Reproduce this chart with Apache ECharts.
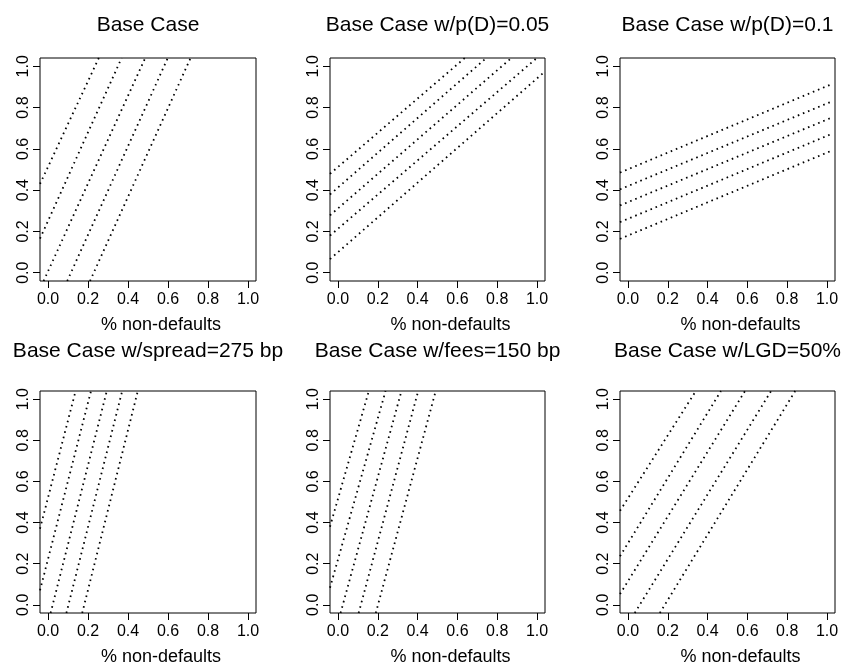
<!DOCTYPE html>
<html>
<head>
<meta charset="utf-8">
<title>Base Case panels</title>
<script src="https://cdn.jsdelivr.net/npm/echarts@6.0.0/dist/echarts.min.js"></script>
<style>
  html, body { margin: 0; padding: 0; background: #fff; }
  #chart { width: 841px; height: 667px; }
</style>
</head>
<body>
<div id="chart"></div>
<script>
// tick positions shared by every axis
const tickValues = [0, 0.2, 0.4, 0.6, 0.8, 1.0];

const panelTitles = [
  'Base Case',
  'Base Case w/p(D)=0.05',
  'Base Case w/p(D)=0.1',
  'Base Case w/spread=275 bp',
  'Base Case w/fees=150 bp',
  'Base Case w/LGD=50%'
];
const xLabel = '% non-defaults';

// each line: [start point, end point] in data units
const baseCase = [
  [[-0.04, 0.43], [0.254, 1.04]],
  [[-0.04, 0.165], [0.368, 1.04]],
  [[-0.022, -0.04], [0.486, 1.04]],
  [[0.096, -0.04], [0.599, 1.04]],
  [[0.21, -0.04], [0.713, 1.04]]
];
const pd005 = [
  [[-0.04, 0.479], [0.637, 1.04]],
  [[-0.04, 0.379], [0.745, 1.04]],
  [[-0.04, 0.278], [0.871, 1.04]],
  [[-0.04, 0.18], [0.999, 1.04]],
  [[-0.04, 0.066], [1.04, 0.975]]
];
const pd01 = [
  [[-0.04, 0.485], [1.025, 0.914]],
  [[-0.04, 0.404], [1.025, 0.83]],
  [[-0.04, 0.326], [1.025, 0.752]],
  [[-0.04, 0.245], [1.025, 0.673]],
  [[-0.04, 0.164], [1.025, 0.592]]
];
const spread275 = [
  [[-0.04, 0.37], [0.138, 1.04]],
  [[-0.04, 0.07], [0.215, 1.04]],
  [[0.013, -0.04], [0.294, 1.04]],
  [[0.092, -0.04], [0.371, 1.04]],
  [[0.171, -0.04], [0.449, 1.04]]
];
const fees150 = [
  [[-0.04, 0.38], [0.155, 1.04]],
  [[-0.04, 0.083], [0.239, 1.04]],
  [[0.013, -0.04], [0.319, 1.04]],
  [[0.104, -0.04], [0.403, 1.04]],
  [[0.19, -0.04], [0.491, 1.04]]
];
const lgd50 = [
  [[-0.04, 0.457], [0.341, 1.04]],
  [[-0.04, 0.236], [0.467, 1.04]],
  [[-0.04, 0.052], [0.588, 1.04]],
  [[0.034, -0.04], [0.719, 1.04]],
  [[0.16, -0.04], [0.84, 1.04]]
];
const panelLines = [baseCase, pd005, pd01, spread275, fees150, lgd50];

// plot boxes (pixels)
const boxes = [
  { left: 40, top: 58, width: 216, height: 223 },
  { left: 330, top: 58, width: 215, height: 223 },
  { left: 620, top: 58, width: 215, height: 223 },
  { left: 40, top: 391, width: 216, height: 222 },
  { left: 330, top: 391, width: 215, height: 222 },
  { left: 620, top: 391, width: 215, height: 222 }
];

const FONT = '"Liberation Sans", Arial, Helvetica, sans-serif';

const chart = echarts.init(document.getElementById('chart'));

const grid = [], xAxis = [], yAxis = [], series = [], texts = [];

boxes.forEach(function (b, i) {
  grid.push({
    left: b.left, top: b.top, width: b.width, height: b.height,
    show: true, borderColor: '#000', borderWidth: 1, backgroundColor: '#fff',
    containLabel: false, outerBoundsMode: 'none'
  });

  xAxis.push({
    type: 'value', gridIndex: i, min: -0.04, max: 1.04,
    axisLine: { show: false, onZero: false },
    splitLine: { show: false },
    axisTick: { show: true, length: 7, customValues: tickValues, lineStyle: { color: '#000', width: 1 } },
    axisLabel: {
      customValues: tickValues, margin: 11, color: '#000', fontSize: 16, fontFamily: FONT,
      formatter: function (v) { return v.toFixed(1); }
    }
  });

  yAxis.push({
    type: 'value', gridIndex: i, min: -0.04, max: 1.04,
    axisLine: { show: false, onZero: false },
    splitLine: { show: false },
    axisTick: { show: true, length: 7, customValues: tickValues, lineStyle: { color: '#000', width: 1 } },
    axisLabel: {
      customValues: tickValues, margin: 8, rotate: 90, color: '#000', fontSize: 16, fontFamily: FONT,
      formatter: function (v) { return v.toFixed(1); }
    }
  });

  panelLines[i].forEach(function (line) {
    series.push({
      type: 'line', xAxisIndex: i, yAxisIndex: i,
      data: line, symbol: 'none', clip: true, silent: true,
      lineStyle: { color: '#000', width: 1.8, type: [1.6, 3.9] }
    });
  });

  const cx = b.left + b.width / 2;
  const row = i < 3 ? 0 : 1;
  texts.push({
    type: 'text', x: cx, y: row === 0 ? 25 : 351,
    style: { text: panelTitles[i], align: 'center', verticalAlign: 'middle', fill: '#000', font: '21px ' + FONT }
  });
  texts.push({
    type: 'text', x: cx + 13, y: row === 0 ? 325 : 657,
    style: { text: xLabel, align: 'center', verticalAlign: 'middle', fill: '#000', font: '18px ' + FONT }
  });
});

chart.setOption({
  backgroundColor: '#fff',
  animation: false,
  grid: grid,
  xAxis: xAxis,
  yAxis: yAxis,
  series: series,
  graphic: texts
});
</script>
</body>
</html>
